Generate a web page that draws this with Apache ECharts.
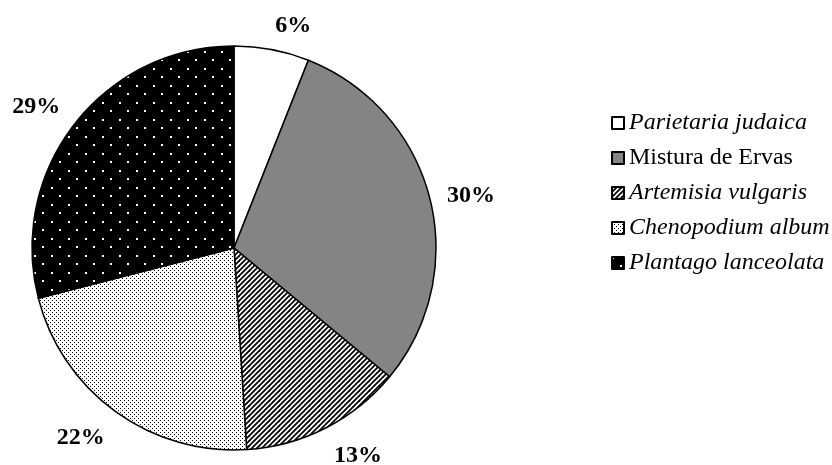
<!DOCTYPE html>
<html>
<head>
<meta charset="utf-8">
<script src="https://cdn.jsdelivr.net/npm/echarts@6/dist/echarts.min.js"></script>
<style>
  html, body { margin: 0; background: #fff; }
  #main { width: 832px; height: 465px; }
</style>
</head>
<body>
<div id="main"></div>
<script>
var especies = ['Parietaria judaica', 'Mistura de Ervas', 'Artemisia vulgaris', 'Chenopodium album', 'Plantago lanceolata'];
var percentagens = [6, 30, 13, 22, 29];
var italico = [true, false, true, true, true];

var centro = [234, 248];
var raio = 202;
var fonte = '"Liberation Serif", "Times New Roman", serif';
var tamFonte = 24;

// padroes de preenchimento (tipo Excel)
function tile(size, draw) {
    var c = document.createElement('canvas');
    c.width = c.height = size;
    var ctx = c.getContext('2d');
    draw(ctx, size);
    return c;
}
var riscado = tile(10, function (ctx, s) {
    ctx.fillStyle = '#fff';
    ctx.fillRect(0, 0, s, s);
    ctx.strokeStyle = '#000';
    ctx.lineWidth = 1.8;
    for (var x0 = -10; x0 <= 10; x0 += 5) {
        ctx.beginPath();
        ctx.moveTo(x0 - 2, s + 2);
        ctx.lineTo(x0 + s + 2, -2);
        ctx.stroke();
    }
});
var pontilhado = tile(4, function (ctx, s) {
    ctx.fillStyle = '#fff';
    ctx.fillRect(0, 0, s, s);
    ctx.fillStyle = '#000';
    ctx.fillRect(0, 0, 1, 1);
    ctx.fillRect(2, 2, 1, 1);
});
var pretoPontos = tile(17, function (ctx, s) {
    ctx.fillStyle = '#000';
    ctx.fillRect(0, 0, s, s);
    ctx.fillStyle = '#fff';
    ctx.fillRect(0, 0, 2, 2);
    ctx.fillRect(8, 8, 2, 2);
});
var cores = [
    '#ffffff',
    '#848484',
    { image: riscado, repeat: 'repeat' },
    { image: pontilhado, repeat: 'repeat' },
    { image: pretoPontos, repeat: 'repeat' }
];

var total = percentagens.reduce(function (a, b) { return a + b; }, 0);

var myChart = echarts.init(document.getElementById('main'));

function sinal(v) { return v >= 0 ? 1 : -1; }

var option = {
    animation: false,
    backgroundColor: '#fff',
    legend: {
        orient: 'vertical',
        left: 606,
        top: 106,
        icon: 'rect',
        itemWidth: 12,
        itemHeight: 12,
        itemGap: 11,
        selectedMode: false,
        data: especies,
        formatter: function (name) {
            var i = especies.indexOf(name);
            return italico[i] ? '{i|' + name + '}' : '{n|' + name + '}';
        },
        textStyle: {
            rich: {
                i: { fontFamily: fonte, fontStyle: 'italic', fontSize: tamFonte, color: '#000', lineHeight: 24 },
                n: { fontFamily: fonte, fontSize: tamFonte, color: '#000', lineHeight: 24 }
            }
        }
    },
    series: [{
        type: 'pie',
        center: centro,
        radius: raio,
        startAngle: 90,
        clockwise: true,
        avoidLabelOverlap: false,
        silent: true,
        itemStyle: { borderColor: '#000', borderWidth: 1.5 },
        label: {
            show: true,
            position: 'outside',
            formatter: '{c}%',
            fontFamily: fonte,
            fontWeight: 'bold',
            fontSize: tamFonte,
            color: '#000'
        },
        labelLine: { show: false },
        // rotulo fora da fatia, encostado ao circulo no angulo medio
        labelLayout: function (p) {
            var antes = 0;
            for (var i = 0; i < p.dataIndex; i++) antes += percentagens[i];
            var ang = (90 - 360 * (antes + percentagens[p.dataIndex] / 2) / total) * Math.PI / 180;
            var c = Math.cos(ang), s = Math.sin(ang);
            var R = raio + 18;
            var hw = p.labelRect.width / 2, hh = tamFonte * 0.38;
            // perto da horizontal o rotulo fica centrado na vertical
            var fy = Math.min(1, Math.max(0, (Math.abs(s) - 0.25) / 0.3));
            return {
                x: centro[0] + R * c + sinal(c) * hw,
                y: centro[1] - R * s - sinal(s) * hh * fy + 3,
                align: 'center',
                verticalAlign: 'middle'
            };
        },
        data: especies.map(function (n, i) {
            return { name: n, value: percentagens[i], itemStyle: { color: cores[i] } };
        })
    }]
};

myChart.setOption(option);
</script>
</body>
</html>
